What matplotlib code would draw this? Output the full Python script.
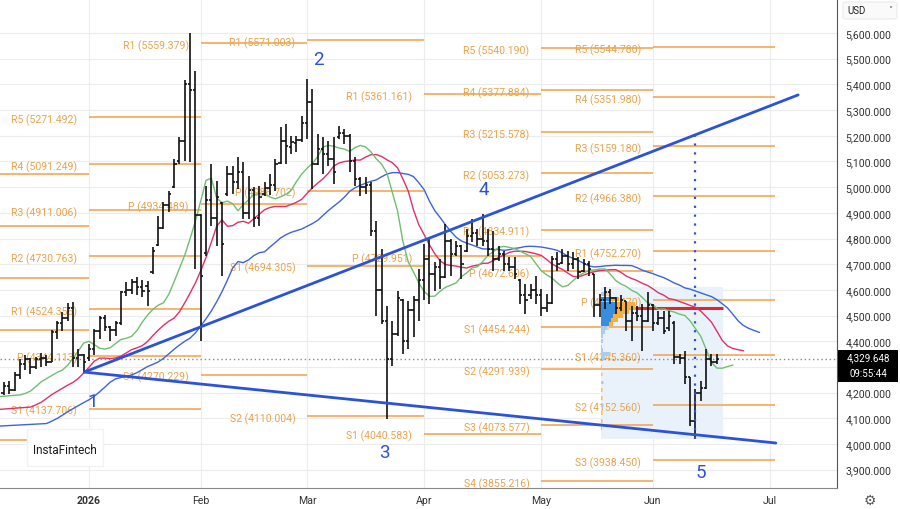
import matplotlib.pyplot as plt
import numpy as np
import pandas as pd
from matplotlib.patches import Rectangle, FancyBboxPatch

plt.rcParams['font.family'] = ['Roboto', 'DejaVu Sans']

# trading calendar: weekdays, no bar on these days
holidays = ["2025-12-25", "2026-01-01"]
first_bar = "2025-12-09"
anchor_day = "2026-01-02"
month_labels = ["2026", "Feb", "Mar", "Apr", "May", "Jun", "Jul"]

# daily bars, Dec 9 2025 .. Jun 17 2026 (Dec / Jan / Feb / Mar / Apr / May / Jun)
opens = [4200, 4225, 4210, 4270, 4310, 4330, 4300, 4330, 4335, 4320, 4435, 4470, 4490, 4530, 4335, 4345,
         4335, 4370, 4440, 4490, 4455, 4445, 4470, 4590, 4600, 4630, 4610, 4615, 4670, 4775, 4840, 4930, 5000, 5100, 5180, 5400, 5380,
         4890, 4745, 4950, 4880, 4940, 4975, 5050, 5020, 5060, 4900, 4990, 4880, 4975, 4995, 5010, 5095, 5180, 5155, 5170, 5185,
         5250, 5330, 5090, 5150, 5130, 5110, 5195, 5210, 5200, 5100, 5030, 5000, 5010, 4830, 4600, 4480, 4330, 4430, 4560, 4400, 4520, 4560,
         4640, 4720, 4660, 4690, 4650, 4790, 4740, 4770, 4750, 4810, 4820, 4800, 4790, 4760, 4720, 4740, 4700, 4690, 4640, 4580, 4580, 4600,
         4580, 4530, 4550, 4720, 4705, 4730, 4700, 4720, 4675, 4700, 4660, 4540, 4560, 4590, 4570, 4530, 4555, 4480, 4510, 4500, 4480,
         4540, 4470, 4490, 4450, 4470, 4340, 4335, 4260, 4090, 4200, 4220, 4330, 4320]
highs = [4240, 4245, 4280, 4331, 4346, 4335, 4339, 4354, 4346, 4444, 4479, 4514, 4549, 4553, 4370, 4350,
         4389, 4448, 4498, 4502, 4460, 4479, 4596, 4631, 4642, 4650, 4638, 4635, 4767, 4888, 4942, 4985, 5110, 5195, 5417, 5600, 5452,
         4896, 5004, 5090, 5024, 4942, 5082, 5082, 5117, 5098, 5043, 5000, 5004, 5020, 5050, 5110, 5234, 5246, 5199, 5199, 5277,
         5421, 5382, 5207, 5197, 5180, 5195, 5238, 5226, 5205, 5117, 5039, 5039, 5020, 4868, 4759, 4537, 4479, 4596, 4565, 4557, 4576, 4681,
         4780, 4798, 4708, 4720, 4856, 4798, 4790, 4775, 4837, 4876, 4837, 4895, 4837, 4829, 4771, 4751, 4728, 4728, 4642, 4623, 4623, 4654,
         4603, 4584, 4732, 4747, 4759, 4751, 4747, 4728, 4720, 4712, 4662, 4584, 4611, 4603, 4572, 4580, 4557, 4537, 4537, 4545, 4592,
         4545, 4518, 4518, 4518, 4479, 4350, 4362, 4261, 4214, 4245, 4370, 4350, 4350]
lows = [4190, 4195, 4206, 4253, 4288, 4273, 4292, 4300, 4304, 4318, 4409, 4440, 4479, 4300, 4300, 4284,
        4325, 4346, 4409, 4440, 4401, 4420, 4465, 4576, 4584, 4580, 4572, 4537, 4662, 4771, 4837, 4903, 4995, 5090, 5102, 5098, 4681,
        4401, 4732, 4849, 4771, 4654, 4966, 4973, 4993, 4876, 4876, 4845, 4849, 4966, 4970, 4985, 5090, 5090, 5129, 5137, 5176,
        5187, 4993, 5085, 5051, 5082, 5012, 5187, 5168, 5059, 5004, 4966, 4973, 4810, 4498, 4467, 4097, 4304, 4420, 4350, 4370, 4417, 4479,
        4560, 4545, 4596, 4603, 4645, 4654, 4732, 4642, 4747, 4786, 4771, 4771, 4732, 4674, 4712, 4674, 4674, 4642, 4545, 4506, 4564, 4545,
        4499, 4514, 4545, 4674, 4701, 4674, 4681, 4642, 4670, 4654, 4495, 4495, 4526, 4545, 4506, 4518, 4440, 4401, 4479, 4362, 4475,
        4440, 4465, 4428, 4440, 4311, 4311, 4234, 4070, 4020, 4167, 4214, 4304, 4311]
closes = [4225, 4210, 4270, 4310, 4330, 4300, 4330, 4335, 4320, 4435, 4470, 4490, 4530, 4335, 4345, 4320,
          4370, 4440, 4490, 4455, 4445, 4470, 4590, 4600, 4630, 4610, 4595, 4595, 4750, 4840, 4930, 4975, 5090, 5180, 5400, 5380, 4890,
          4654, 4950, 4880, 4960, 4780, 5050, 5020, 5060, 4900, 4990, 4880, 4960, 4995, 5010, 5090, 5180, 5160, 5175, 5185, 5250,
          5330, 5090, 5150, 5130, 5110, 5060, 5210, 5200, 5100, 5030, 5000, 5010, 4830, 4600, 4480, 4330, 4430, 4570, 4400, 4520, 4560, 4640,
          4720, 4660, 4690, 4650, 4790, 4740, 4770, 4700, 4810, 4820, 4800, 4790, 4760, 4720, 4740, 4700, 4690, 4660, 4580, 4560, 4600, 4580,
          4530, 4550, 4720, 4700, 4730, 4700, 4720, 4670, 4700, 4680, 4540, 4560, 4590, 4570, 4530, 4560, 4480, 4510, 4500, 4480, 4540,
          4470, 4490, 4440, 4500, 4340, 4335, 4260, 4090, 4200, 4220, 4330, 4320, 4329.648]
countdown = "09:55:44"

# Alligator: (period, shift, value at left edge)
lips = (5, 3, 4185)
teeth = (9, 5, 4135)
jaw = (15, 8, 4070)

# monthly pivot levels
dec_levels = [5051, 4849, 4646, 4444, 4016]
piv_jan = [("R5", 5271.492), ("R4", 5091.249), ("R3", 4911.006), ("R2", 4730.763),
           ("R1", 4524.356), ("P", 4344.113), ("S1", 4137.706)]
piv_feb = [("R1", 5559.379), ("P", 4934.489), ("S1", 4270.229)]
piv_mar = [("R1", 5571.003), ("P", 4986.702), ("S1", 4694.305), ("S2", 4110.004)]
piv_apr = [("R1", 5361.161), ("P", 4729.951), ("S1", 4040.583)]
piv_may = [("R5", 5540.190), ("R4", 5377.884), ("R3", 5215.578), ("R2", 5053.273), ("R1", 4834.911),
           ("P", 4672.606), ("S1", 4454.244), ("S2", 4291.939), ("S3", 4073.577), ("S4", 3855.216)]
piv_jun = [("R5", 5544.780), ("R4", 5351.980), ("R3", 5159.180), ("R2", 4966.380), ("R1", 4752.270),
           ("P", 4559.470), ("S1", 4345.360), ("S2", 4152.560), ("S3", 3938.450)]

# fixed range volume profile (bar index range, price bins, up / down volume)
vp_start, vp_end = 96.2, 119.2
vp_prices = [4584, 4564, 4545, 4530, 4514, 4498, 4483, 4467, 4452, 4436, 4421, 4400, 4380,
             4365, 4350, 4335, 4300, 4270, 4240, 4210, 4180, 4150, 4120, 4090, 4060]
vp_up = [5, 10, 14, 15, 14, 12, 10, 8, 6, 4, 2, 2, 1, 2, 9, 4, 1, 1, 2, 1, 1, 2, 1, 1, 1]
vp_down = [3, 8, 20, 19, 14, 10, 7, 4, 2, 0, 0, 0, 0, 0, 1, 0, 0, 1, 1, 1, 1, 1, 1, 1, 0]
vp_poc = 4531

# hand drawn triangle (bar index, price) and wave marks
tri_x = [-0.9, 133.3]
tri_upper = [4280, 5359]
tri_lower_x = [-0.9, 129.1]
tri_lower = [4280, 4004]
wave_text = ["1", "2", "3", "4", "5"]
wave_x = [0.6, 43.2, 55.6, 74.2, 115.0]
wave_y = [4167, 5499, 3968, 4992, 3891]
wave5_bar = 114

# ---------------------------------------------------------------
cal = pd.bdate_range("2025-12-01", "2026-07-31")
cal = cal[~cal.isin(pd.to_datetime(holidays))]
x_all = np.arange(len(cal)) - cal.get_loc(pd.Timestamp(anchor_day))
new_month = np.r_[True, np.asarray(cal.month[1:]) != np.asarray(cal.month[:-1])]
month_first = x_all[new_month]          # Dec, Jan, ..., Jul
x = x_all[cal.get_loc(pd.Timestamp(first_bar))] + np.arange(len(closes))

o, h, l, c = map(np.array, (opens, highs, lows, closes))

xl, xr = -16.73, 140.6
yb, yt = 3828.8, 5732.3

fig = plt.figure(figsize=(9, 5.1), dpi=100)
ax = fig.add_axes([0, 21 / 510, 837 / 900, 489 / 510])
ax.set_xlim(xl, xr)
ax.set_ylim(yb, yt)

orange_line = '#f2a04a'
orange_text = '#e9a34c'
blue = '#2b52d8'

# volume profile box
lo = l[(x >= 96) & (x <= 118)].min()
hi = h[(x >= 96) & (x <= 118)].max()
ax.add_patch(Rectangle((vp_start, lo), vp_end - vp_start, hi - lo,
                       facecolor='#e9f2fb', edgecolor='none', zorder=1))

# pivots
segments = [(month_first[1], month_first[2], piv_jan), (month_first[2], month_first[3], piv_feb),
            (month_first[3], month_first[4], piv_mar), (month_first[4], month_first[5], piv_apr),
            (month_first[5], month_first[6], piv_may), (month_first[6], month_first[7] + 0.9, piv_jun)]
for lev in dec_levels:
    ax.hlines(lev, month_first[0], month_first[1], color=orange_line, lw=1.1, zorder=2)
for start, end, levels in segments:
    for name, val in levels:
        ax.hlines(val, start, end, color=orange_line, lw=1.1, zorder=2)
        ax.annotate(f"{name} ({val:.3f})", (start, val), xytext=(-8.5, -1.5),
                    textcoords='offset points', ha='right', va='center',
                    fontsize=7.6, color=orange_text, zorder=2.5)

# volume histogram
tot = np.array(vp_up) + np.array(vp_down)
order = np.argsort(tot)[::-1]
in_va = np.zeros(len(tot), bool)
in_va[order[:np.searchsorted(np.cumsum(tot[order]), 0.7 * tot.sum()) + 1]] = True
scale = 6.4 / tot.max()
for p, u, d, va in zip(vp_prices, vp_up, vp_down, in_va):
    cu = '#3a8ddc' if va else '#a9cdf0'
    cd = '#f5b03e' if va else '#f7d69a'
    ax.barh(p, u * scale, height=14, left=vp_start, color=cu, zorder=3)
    ax.barh(p, d * scale, height=14, left=vp_start + u * scale, color=cd, zorder=3)
ax.hlines(vp_poc, vp_start + tot.max() * scale, vp_end, color='#d9282f', lw=2.2, zorder=3.5)

# Alligator on median price
med = (h + l) / 2
for (n, shift, seed), col in [(jaw, '#3d63dd'), (teeth, '#e0306a'), (lips, '#6fbf6f')]:
    s, vals = seed, []
    for v in med:
        s += (v - s) / n
        vals.append(s)
    ax.plot(np.r_[xl, x + shift], np.r_[seed, vals], color=col, lw=1.0, zorder=4)

# OHLC bars
ax.vlines(x, l, h, color='#111111', lw=1.2, zorder=5)
ax.hlines(o, x - 0.45, x, color='#111111', lw=1.2, zorder=5)
ax.hlines(c, x, x + 0.45, color='#111111', lw=1.2, zorder=5)

# last price
ax.axhline(c[-1], color='#8a8a8a', ls=(0, (1, 2)), lw=1.0, zorder=4)

# triangle, wave count
ax.plot(tri_x, tri_upper, color=blue, lw=2, zorder=6, solid_capstyle='round')
ax.plot(tri_lower_x, tri_lower, color=blue, lw=2, zorder=6, solid_capstyle='round')
top5 = np.interp(wave5_bar, tri_x, tri_upper)
ax.vlines(wave5_bar, l[x == wave5_bar][0], top5, color=blue, lw=1.6, ls=(0, (1, 3)), zorder=6)
for t, wx, wy in zip(wave_text, wave_x, wave_y):
    ax.text(wx, wy, t, color=blue, fontsize=13.5, ha='center', va='center', zorder=7)

# axes styling (price scale label hidden under the last-price tag)
yt_vals = np.arange(3900, 5601, 100)
ax.set_yticks(yt_vals)
ax.set_yticklabels(["" if abs(v - c[-1]) < 45 else f"{v:,.3f}" for v in yt_vals])
ax.yaxis.tick_right()
ax.set_xticks(month_first[1:])
ax.set_xticklabels(month_labels)
ax.get_xticklabels()[0].set_fontweight('bold')
ax.tick_params(axis='y', length=0, pad=6, labelsize=7.6, labelcolor='#333333')
ax.tick_params(axis='x', length=0, pad=5, labelsize=7.6, labelcolor='#333333')
ax.grid(True, color='#ececec', lw=0.8, zorder=0)
ax.set_axisbelow(True)
for side in ['top', 'left']:
    ax.spines[side].set_visible(False)
ax.spines['right'].set_color('#555555')
ax.spines['bottom'].set_color('#888888')

# overlays
fig.patches.append(Rectangle((27 / 900, 1 - 467 / 510), 76 / 900, 37 / 510, transform=fig.transFigure,
                             facecolor='white', edgecolor='#f2f2f2', zorder=5))
fig.text(65 / 900, 1 - 451 / 510, "InstaFintech", ha='center', va='center', fontsize=8.5,
         color='#1a1a1a', zorder=6)
fig.patches.append(Rectangle((838 / 900, 1 - 383 / 510), 60 / 900, 32 / 510, transform=fig.transFigure,
                             facecolor='black', edgecolor='none', zorder=5))
fig.text(868 / 900, 1 - 358 / 510, f"{c[-1]:,.3f}", ha='center', va='center', fontsize=7,
         color='white', zorder=6)
fig.text(868 / 900, 1 - 374 / 510, countdown, ha='center', va='center', fontsize=7,
         color='white', zorder=6)
fig.patches.append(FancyBboxPatch((843 / 900, 1 - 20 / 510), 54 / 900, 17 / 510, transform=fig.transFigure,
                                  boxstyle='round,pad=0,rounding_size=0.004', facecolor='#fafafa',
                                  edgecolor='#eeeeee', zorder=5))
fig.text(847 / 900, 1 - 11 / 510, "USD", ha='left', va='center', fontsize=7, color='#222222', zorder=6)
fig.text(890 / 900, 1 - 11 / 510, "˅", ha='center', va='center', fontsize=6, color='#444444', zorder=6)
fig.text(870 / 900, 1 - 501 / 510, "⚙", ha='center', va='center', fontsize=10, color='#555555',
         family=['DejaVu Sans'], zorder=6)

fig.savefig("out.png", dpi=100)
